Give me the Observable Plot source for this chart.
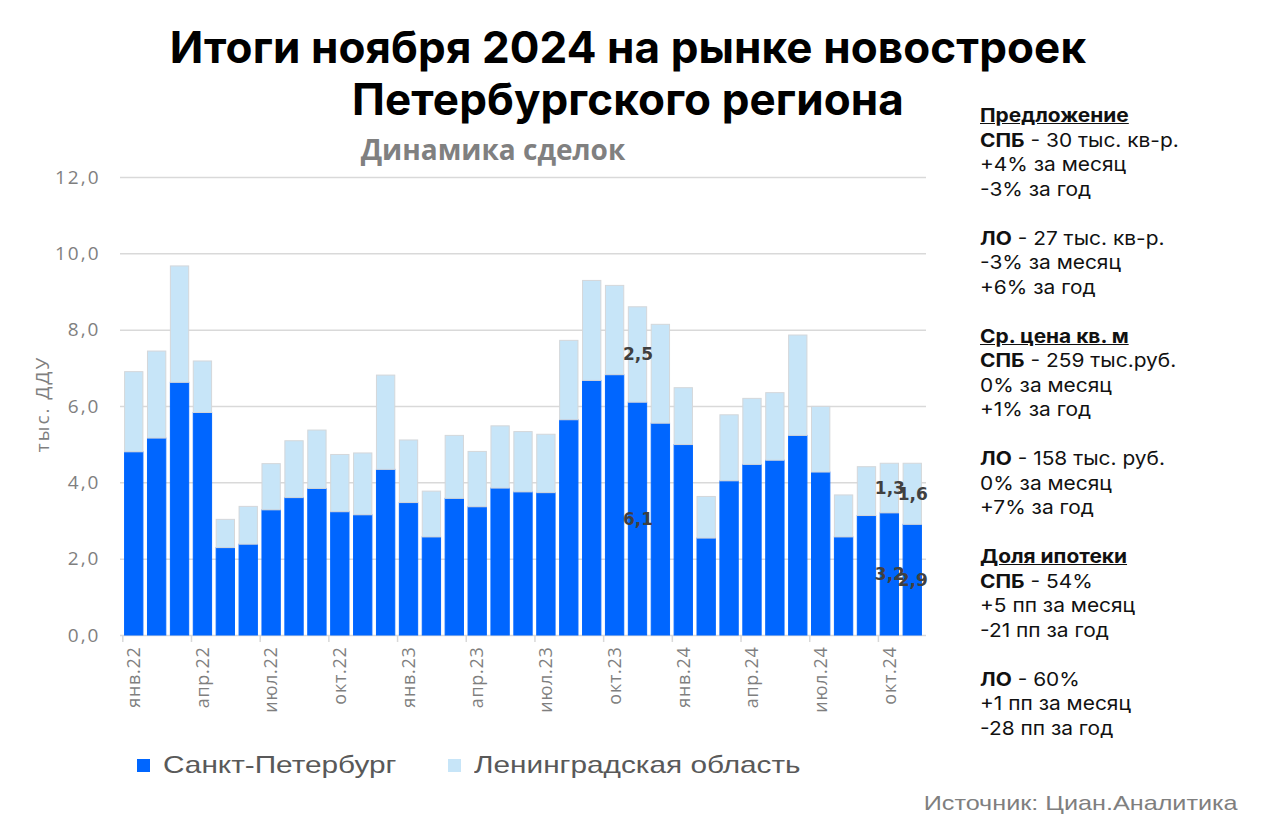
<!DOCTYPE html>
<html><head><meta charset="utf-8">
<script src="https://cdn.jsdelivr.net/npm/d3@7"></script>
<script src="https://cdn.jsdelivr.net/npm/@observablehq/plot@0.6"></script>
<style>
body{margin:0;background:#fff;}
#wrap{position:relative;width:1280px;height:839px;overflow:hidden;background:#fff;}
#title{position:absolute;left:0;width:1256px;top:21px;text-align:center;font:700 44px/52px Inter,sans-serif;color:#000;letter-spacing:0.1px;}
#subtitle{position:absolute;left:293px;width:400px;top:129px;text-align:center;font:700 28px/40px "Open Sans",sans-serif;color:#808080;}
#chart{position:absolute;left:0;top:150px;}
#chart g[aria-label="y-axis tick label"] text{letter-spacing:2px;}
#chart g[aria-label="x-axis tick label"] text{letter-spacing:0.7px;}
#ylab{position:absolute;left:42px;top:404px;transform:translate(-50%,-50%) rotate(-90deg);font:400 19px "Open Sans",sans-serif;color:#7f7f7f;white-space:nowrap;letter-spacing:2px;}
#panel{position:absolute;left:980px;top:104px;font:400 19px/24.5px Inter,sans-serif;color:#111;transform:scaleX(1.1);transform-origin:left top;}
#panel .h{font-weight:700;text-decoration:underline;}
#panel b{font-weight:700;}
#legend{position:absolute;left:137px;top:750px;font:400 24px "Liberation Sans",Arial,sans-serif;color:#595959;height:30px;}
.li{position:absolute;top:0;white-space:nowrap;}
.sw{position:absolute;top:9px;width:13px;height:13px;}
.lt{position:absolute;top:0;left:26px;display:inline-block;transform:scaleX(1.24);transform-origin:left center;line-height:30px;}
#source{position:absolute;right:42px;top:790px;font:400 21px/26px "Liberation Sans",Arial,sans-serif;color:#7f7f7f;transform:scaleX(1.2);transform-origin:right center;}
</style></head>
<body><div id="wrap">
<div id="title">Итоги ноября 2024 на рынке новостроек<br>Петербургского региона</div>
<div id="subtitle">Динамика сделок</div>
<div id="chart"></div>
<div id="ylab">тыс. ДДУ</div>
<div id="panel"></div>
<div id="legend"></div>
<div id="source">Источник: Циан.Аналитика</div>
</div>
<script>
const months = ["янв.22","фев.22","мар.22","апр.22","май.22","июн.22","июл.22","авг.22","сен.22","окт.22","ноя.22","дек.22",
"янв.23","фев.23","мар.23","апр.23","май.23","июн.23","июл.23","авг.23","сен.23","окт.23","ноя.23","дек.23",
"янв.24","фев.24","мар.24","апр.24","май.24","июн.24","июл.24","авг.24","сен.24","окт.24","ноя.24"];
const spb = [4.80,5.16,6.62,5.83,2.29,2.38,3.28,3.60,3.84,3.23,3.15,4.34,
3.47,2.57,3.58,3.36,3.85,3.75,3.73,5.64,6.67,6.82,6.1,5.55,
4.99,2.54,4.04,4.47,4.58,5.23,4.27,2.57,3.13,3.2,2.9];
const lo = [2.10,2.28,3.05,1.35,0.74,0.99,1.21,1.49,1.53,1.50,1.62,2.47,
1.64,1.20,1.65,1.45,1.63,1.58,1.53,2.08,2.62,2.34,2.5,2.59,
1.49,1.09,1.73,1.73,1.77,2.63,1.72,1.10,1.28,1.3,1.6];
const tickLabels = ["янв.22","апр.22","июл.22","окт.22","янв.23","апр.23","июл.23","окт.23","янв.24","апр.24","июл.24","окт.24"];
const yTicks = [0,2,4,6,8,10,12];
const labeledMonths = ["ноя.23","окт.24","ноя.24"];
const regions = ["Санкт-Петербург","Ленинградская область"];
const colors = ["#0066FF","#C7E5F8"];
const outline = ["#0066FF","#D4D7DA"];
const panelLines = [
  ["h","Предложение"],["b","СПБ"," - 30 тыс. кв-р."],["","+4% за месяц"],["","-3% за год"],["",""],
  ["b","ЛО"," - 27 тыс. кв-р."],["","-3% за месяц"],["","+6% за год"],["",""],
  ["h","Ср. цена кв. м"],["b","СПБ"," - 259 тыс.руб."],["","0% за месяц"],["","+1% за год"],["",""],
  ["b","ЛО"," - 158 тыс. руб."],["","0% за месяц"],["","+7% за год"],["",""],
  ["h","Доля ипотеки"],["b","СПБ"," - 54%"],["","+5 пп за месяц"],["","-21 пп за год"],["",""],
  ["b","ЛО"," - 60%"],["","+1 пп за месяц"],["","-28 пп за год"]
];

const rows = months.flatMap((m, i) => [
  {month: m, region: regions[0], value: spb[i]},
  {month: m, region: regions[1], value: lo[i]}
]);
const fmt = v => v.toFixed(1).replace(".", ",");

const W = 960, ML = 120, MR = 34, PAD = 0.2;
const step = (W - ML - MR) / (months.length + PAD);

const chart = Plot.plot({
  width: W, height: 580,
  marginLeft: ML, marginRight: MR, marginTop: 27, marginBottom: 95,
  style: {fontFamily: "'Open Sans', sans-serif", background: "transparent"},
  x: {domain: months, padding: PAD, label: null},
  y: {domain: [0, 12], label: null},
  marks: [
    Plot.ruleY(yTicks, {stroke: "#d9d9d9", strokeWidth: 1.5}),
    Plot.barY(rows, {x: "month", y: "value", z: "region",
      fill: d => colors[regions.indexOf(d.region)],
      stroke: d => outline[regions.indexOf(d.region)], strokeWidth: 1}),
    Plot.ruleX(tickLabels, {x: d => d, y1: 0, y2: 0, dx: -step / 2, insetBottom: -7, stroke: "#d9d9d9", strokeWidth: 1.5}),
    Plot.axisY({ticks: yTicks, tickFormat: fmt, tickSize: 0, tickPadding: 20, fontSize: 19, color: "#7f7f7f", label: null}),
    Plot.axisX({ticks: tickLabels, tickSize: 0, tickRotate: -90, tickPadding: 11, fontSize: 18, color: "#7f7f7f", label: null}),
    Plot.text(rows.filter(d => labeledMonths.includes(d.month)),
      Plot.stackY({x: "month", y: "value", z: "region", text: d => fmt(d.value),
        fill: "#404040", fontWeight: "bold", fontSize: 17, fontFamily: "'DejaVu Sans', sans-serif"}))
  ]
});
document.getElementById("chart").appendChild(chart);

const panel = document.getElementById("panel");
panel.innerHTML = panelLines.map(([t, a, b]) => {
  if (t === "h") return `<div class="h">${a}</div>`;
  if (t === "b") return `<div><b>${a}</b>${b}</div>`;
  return `<div>${a || "&nbsp;"}</div>`;
}).join("");

const legend = document.getElementById("legend");
const legendX = [0, 311];
legend.innerHTML = regions.map((r, i) =>
  `<div class="li" style="left:${legendX[i]}px"><span class="sw" style="background:${colors[i]}"></span><span class="lt">${r}</span></div>`
).join("");
</script>
</body></html>
